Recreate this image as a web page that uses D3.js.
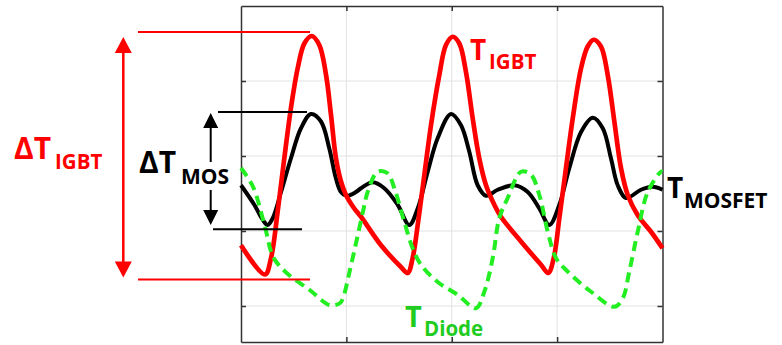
<!DOCTYPE html>
<html>
<head>
<meta charset="utf-8">
<script src="https://cdn.jsdelivr.net/npm/d3@7"></script>
<style>
  body { margin: 0; background: #fff; }
  text { font-family: "Open Sans", sans-serif; font-weight: bold; }
</style>
</head>
<body>
<div id="chart"></div>
<script>
// time axis (3 switching periods) and temperature
const igbtX = [0, 0.228, 0.285, 0.348, 0.411, 0.474, 0.538, 0.601, 0.671, 0.743, 0.807, 0.854, 0.901, 0.949, 0.996,
  1.075, 1.139, 1.329, 1.518, 1.582, 1.629, 1.677, 1.740, 1.803, 1.882, 1.945, 2.009, 2.072, 2.135,
  2.199, 2.261, 2.325, 2.404, 2.467, 2.657, 2.847, 2.916, 2.968, 3.021, 3.084, 3.148, 3.227, 3.290,
  3.347, 3.416, 3.480, 3.543, 3.606, 3.670, 3.765, 3.891, 4.0];
const igbtY = [1.81, 1.42, 1.64, 2.26, 2.97, 3.64, 4.17, 4.50, 4.60, 4.48, 4.08, 3.55, 2.97, 2.66, 2.48,
  2.30, 2.19, 1.81, 1.52, 1.44, 1.64, 2.08, 2.75, 3.41, 4.08, 4.48, 4.59, 4.50, 4.12,
  3.50, 2.97, 2.61, 2.35, 2.19, 1.86, 1.55, 1.44, 1.64, 2.17, 2.84, 3.50, 4.17, 4.46,
  4.55, 4.46, 4.08, 3.46, 2.84, 2.48, 2.21, 1.99, 1.77];

const mosX = [0, 0.126, 0.206, 0.253, 0.301, 0.380, 0.474, 0.569, 0.664, 0.759, 0.838, 0.901, 0.949, 1.006,
  1.091, 1.139, 1.250, 1.360, 1.487, 1.597, 1.677, 1.772, 1.867, 1.993, 2.088, 2.166, 2.246, 2.325,
  2.436, 2.594, 2.721, 2.831, 2.926, 3.021, 3.116, 3.227, 3.338, 3.433, 3.511, 3.575, 3.653,
  3.796, 3.907, 4.0];
const mosY = [2.61, 2.35, 2.15, 2.08, 2.17, 2.52, 2.97, 3.37, 3.56, 3.46, 3.10, 2.70, 2.52, 2.47,
  2.52, 2.57, 2.65, 2.57, 2.35, 2.08, 2.30, 2.79, 3.24, 3.56, 3.41, 3.06, 2.61, 2.47,
  2.55, 2.61, 2.52, 2.30, 2.08, 2.35, 2.84, 3.32, 3.51, 3.37, 2.97, 2.61, 2.44,
  2.55, 2.59, 2.55];

const diodeX = [0, 0.114, 0.228, 0.307, 0.434, 0.655, 0.845, 0.940, 0.971, 1.034, 1.098, 1.161, 1.202,
  1.297, 1.392, 1.455, 1.550, 1.629, 1.708, 1.867, 2.056, 2.230, 2.309, 2.389, 2.451, 2.531,
  2.657, 2.752, 2.831, 2.911, 2.989, 3.100, 3.322, 3.543, 3.622, 3.685, 3.765, 3.860, 3.986, 4.0];
const diodeY = [2.84, 2.59, 2.05, 1.65, 1.44, 1.21, 1.01, 1.04, 1.12, 1.48, 1.88, 2.28, 2.52,
  2.79, 2.77, 2.57, 2.12, 1.77, 1.55, 1.32, 1.15, 0.97, 1.19, 1.64, 2.17, 2.44,
  2.79, 2.75, 2.48, 1.99, 1.64, 1.46, 1.19, 0.99, 1.10, 1.46, 1.99, 2.52, 2.79, 2.79];

const xTicks = [1, 2, 3];
const yTicks = [1, 2, 3, 4];

const W = 782, H = 345;
const plotL = 241, plotR = 662.5, plotT = 6, plotB = 342;

const svg = d3.select("#chart").append("svg")
  .attr("width", W).attr("height", H);

const x = d3.scaleLinear().domain([0, 4]).range([plotL, plotR]);
const y = d3.scaleLinear().domain([0.52, 5]).range([plotB, plotT]);

// grid
svg.append("g").selectAll("line").data(xTicks).join("line")
  .attr("x1", d => x(d)).attr("x2", d => x(d))
  .attr("y1", plotT).attr("y2", plotB)
  .attr("stroke", "#e2e2e2").attr("stroke-width", 1);
svg.append("g").selectAll("line").data(yTicks).join("line")
  .attr("x1", plotL).attr("x2", plotR)
  .attr("y1", d => y(d)).attr("y2", d => y(d))
  .attr("stroke", "#e2e2e2").attr("stroke-width", 1);

// box with inward ticks
function frame(g) {
  g.selectAll("path, line").attr("stroke", "#333").attr("stroke-width", 1.5);
  g.selectAll("text").remove();
}
svg.append("g").attr("transform", `translate(0,${plotB})`)
  .call(d3.axisBottom(x).tickValues(xTicks).tickSizeInner(-5).tickSizeOuter(0)).call(frame);
svg.append("g").attr("transform", `translate(0,${plotT})`)
  .call(d3.axisTop(x).tickValues(xTicks).tickSizeInner(-5).tickSizeOuter(0)).call(frame);
svg.append("g").attr("transform", `translate(${plotL},0)`)
  .call(d3.axisLeft(y).tickValues(yTicks).tickSizeInner(-5).tickSizeOuter(0)).call(frame);
svg.append("g").attr("transform", `translate(${plotR},0)`)
  .call(d3.axisRight(y).tickValues(yTicks).tickSizeInner(-5).tickSizeOuter(0)).call(frame);

const line = d3.line()
  .x(d => x(d[0])).y(d => y(d[1]))
  .curve(d3.curveCatmullRom.alpha(0.5));

svg.append("path").datum(d3.zip(mosX, mosY))
  .attr("d", line).attr("fill", "none")
  .attr("stroke", "#000").attr("stroke-width", 4);
svg.append("path").datum(d3.zip(igbtX, igbtY))
  .attr("d", line).attr("fill", "none")
  .attr("stroke", "#ff0000").attr("stroke-width", 4.7);
svg.append("path").datum(d3.zip(diodeX, diodeY))
  .attr("d", line).attr("fill", "none")
  .attr("stroke", "#22ee22").attr("stroke-width", 4)
  .attr("stroke-dasharray", "10,6");

// swing annotations
function arrow(cx, y1, y2, hw, hh, sw, color) {
  svg.append("line").attr("x1", cx).attr("x2", cx)
    .attr("y1", y1 + hh - 1).attr("y2", y2 - hh + 1)
    .attr("stroke", color).attr("stroke-width", sw);
  svg.append("path")
    .attr("d", `M${cx},${y1}L${cx - hw},${y1 + hh}L${cx + hw},${y1 + hh}Z`
      + `M${cx},${y2}L${cx - hw},${y2 - hh}L${cx + hw},${y2 - hh}Z`)
    .attr("fill", color);
}

const igbtTop = y(d3.max(igbtY)), igbtBot = y(d3.min(igbtY));
svg.append("line").attr("x1", 138).attr("x2", 310)
  .attr("y1", igbtTop - 4).attr("y2", igbtTop - 4)
  .attr("stroke", "#ff0000").attr("stroke-width", 2);
svg.append("line").attr("x1", 138).attr("x2", 310)
  .attr("y1", igbtBot + 5).attr("y2", igbtBot + 5)
  .attr("stroke", "#ff0000").attr("stroke-width", 2);
arrow(123.3, igbtTop + 1, igbtBot + 3, 8.5, 16, 2.5, "#ff0000");

const mosTop = y(d3.max(mosY)), mosBot = y(d3.min(mosY));
svg.append("line").attr("x1", 218).attr("x2", 307)
  .attr("y1", mosTop - 2).attr("y2", mosTop - 2)
  .attr("stroke", "#000").attr("stroke-width", 2);
svg.append("line").attr("x1", 213).attr("x2", 302)
  .attr("y1", mosBot + 4.3).attr("y2", mosBot + 4.3)
  .attr("stroke", "#000").attr("stroke-width", 2);
arrow(210.7, mosTop - 1, mosBot, 7.5, 15, 2, "#000");

// labels
function label(x0, y0, main, sub, subX, subY, size, subSize, color) {
  svg.append("text").attr("x", x0).attr("y", y0)
    .attr("fill", color).style("font-size", size + "px").text(main);
  const s = svg.append("text").attr("x", subX).attr("y", subY)
    .attr("fill", color).style("font-size", subSize + "px").text(sub);
  return s;
}

label(14, 159, "ΔT", "IGBT", 55, 169, 30, 20.5, "#ff0000");
const mos = label(139, 173, "ΔT", "MOS", 181, 184, 30, 21, "#000");
const bb = mos.node().getBBox();
svg.insert("rect", "text").attr("x", bb.x).attr("y", bb.y)
  .attr("width", bb.width).attr("height", bb.height).attr("fill", "#fff");
label(470, 60, "T", "IGBT", 489, 69, 28, 20.5, "#ff0000");
label(667, 198, "T", "MOSFET", 684, 208, 28, 21, "#000");
label(405, 327, "T", "Diode", 424, 336, 29, 20.5, "#1fcc1f");
</script>
</body>
</html>
